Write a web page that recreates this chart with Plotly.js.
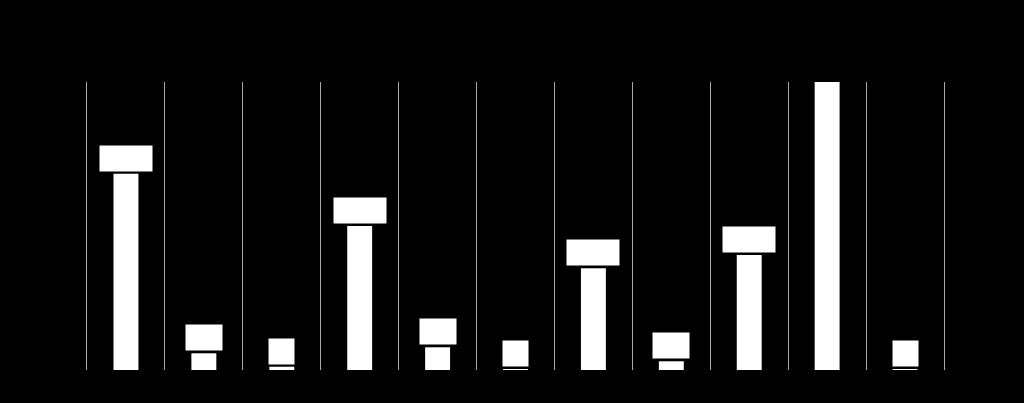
<!DOCTYPE html>
<html>
<head>
<meta charset="utf-8">
<script src="https://cdn.plot.ly/plotly-3.0.1.min.js"></script>
<style>html,body{margin:0;padding:0;background:#000;}#chart{width:1024px;height:403px;}</style>
</head>
<body>
<div id="chart"></div>
<script>
var categories = ["Category 1","Category 2","Category 3","Category 4","Category 5","Category 6","Category 7","Category 8","Category 9","Category 10","Category 11"];
var values = [2385, 203, 40, 1750, 276, 12, 1236, 106, 1397, 4200, 12];
var labels = ["2,385","203","40","1,750","276","12","1,236","106","1,397","4,200","12"];
var yRange = [0, 3500];

var annotations = categories.map(function(c, i){
  return {x: c, y: values[i], xref: 'x', yref: 'y', text: labels[i], showarrow: false,
    yanchor: 'bottom', yshift: 2, bgcolor: '#ffffff', borderpad: 2,
    font: {family: 'Liberation Sans, Arial, sans-serif', size: 19, color: '#ffffff'}};
});

var data = [{type: 'bar', x: categories, y: values, marker: {color: '#ffffff', line: {width: 0}},
  hoverinfo: 'x+y'}];

var layout = {
  width: 1024, height: 403,
  paper_bgcolor: '#000000', plot_bgcolor: '#000000',
  margin: {l: 87, r: 80, t: 82, b: 33},
  font: {family: 'Liberation Sans, Arial, sans-serif', color: '#000000', size: 12},
  title: {text: 'Values by category', font: {color: '#000000', size: 18}},
  bargap: 0.68,
  showlegend: false,
  xaxis: {type: 'category', tickson: 'boundaries', showgrid: true, gridcolor: '#a8a8a8', gridwidth: 1,
    ticks: '', tickfont: {color: '#000000'}, showline: false, zeroline: false},
  yaxis: {range: yRange, autorange: false, showgrid: false, zeroline: false,
    showline: true, mirror: true, linecolor: '#a8a8a8', linewidth: 1, ticks: '',
    tickfont: {color: '#000000'}},
  annotations: annotations
};
Plotly.newPlot('chart', data, layout, {displayModeBar: false, staticPlot: true});
</script>
</body>
</html>
